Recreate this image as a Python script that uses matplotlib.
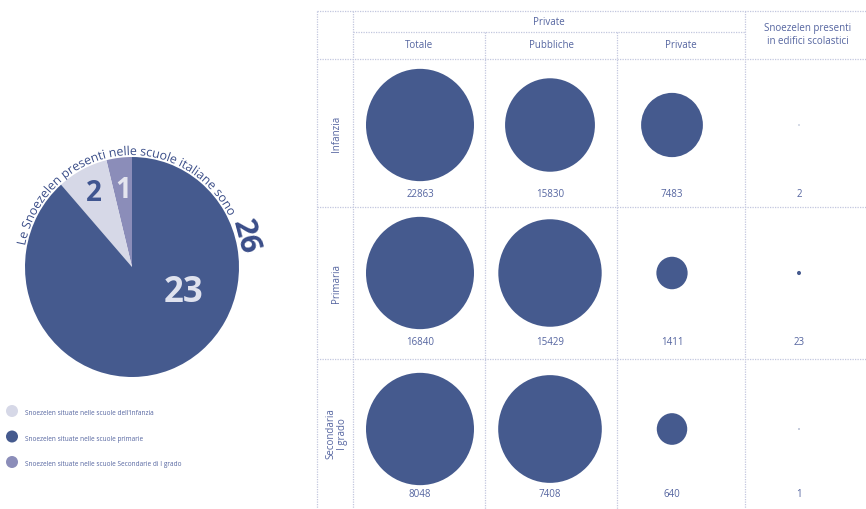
import numpy as np
import matplotlib.pyplot as plt
import matplotlib.patheffects as pe
from matplotlib.patches import Ellipse, Circle
from matplotlib.font_manager import FontProperties, findfont, get_font

plt.rcParams['font.family'] = ['Open Sans', 'DejaVu Sans']

# pie: counted counter-clockwise from the top
pie_names = ['Secondaria di I grado', 'Infanzia', 'Primaria']
pie_values = [1, 2, 23]
pie_colors = ['#8b8db9', '#d6d8e7', '#455a8e']
pie_label_colors = ['#e4e5ef', '#3f5590', '#dfe2ee']
pie_title = 'Le Snoezelen presenti nelle scuole italiane sono'
pie_total = 26

legend_labels = ["Snoezelen situate nelle scuole dell'Infanzia",
                 'Snoezelen situate nelle scuole primarie',
                 'Snoezelen situate nelle scuole Secondarie di I grado']
legend_colors = ['#d6d8e7', '#455a8e', '#8b8db9']

# table
row_labels = ['Infanzia', 'Primaria', 'Secondaria\nI grado']
col_labels = ['Totale', 'Pubbliche', 'Private']
totale = [22863, 16840, 8048]
pubbliche = [15830, 15429, 7408]
private = [7483, 1411, 640]
snoezelen = [2, 23, 1]

W, H = 866, 510
dark = '#455a8e'
txt = '#5565a0'
title_col = '#3a4d88'
grid = '#c2c7df'

fig = plt.figure(figsize=(W / 100, H / 100), dpi=100)
ax = fig.add_axes([0, 0, 1, 1])
ax.set_xlim(0, W)
ax.set_ylim(H, 0)
ax.axis('off')

# ---- pie ----
cx, cy, rx, ry = 132, 268, 107, 110
pax = fig.add_axes([(cx - rx) / W, 1 - (cy + ry) / H, 2 * rx / W, 2 * ry / H])
wedges, _ = pax.pie(pie_values, colors=pie_colors, startangle=90,
                    counterclock=True, wedgeprops=dict(linewidth=0))
pax.set_xlim(-1, 1)
pax.set_ylim(-1, 1)
pax.set_aspect('auto')

label_pos = [(0.71, None), (0.76, None), (0.53, -25)]
label_size = [20, 20, 25]
for w, v, c, (rf, ang), fs in zip(wedges, pie_values, pie_label_colors, label_pos, label_size):
    if ang is None:
        ang = (w.theta1 + w.theta2) / 2
    a = np.radians(ang)
    pax.text(rf * np.cos(a), rf * np.sin(a), str(v), ha='center', va='center',
             fontsize=fs, fontweight='bold', color=c)

# curved title along the top of the pie, one text per character
R_txt_x, R_txt_y = rx + 2, ry + 2
R_mean = (R_txt_x + R_txt_y) / 2
t_start, t_end = 169, 27
arc_len = np.radians(t_start - t_end) * R_mean


def advances(s, size):
    font = get_font(findfont(FontProperties(family='Open Sans')))
    font.set_size(size, 100)
    return np.array([font.load_char(ord(ch)).linearHoriAdvance / 65536 for ch in s])


adv10 = advances(pie_title, 10)
fs_title = 10 * arc_len / adv10.sum()
adv = advances(pie_title, fs_title)
pen = np.concatenate([[0], np.cumsum(adv)[:-1]])
centers = pen + adv / 2 - adv.sum() / 2
t_mid = np.radians((t_start + t_end) / 2)


def arc_point(t):
    x = cx + R_txt_x * np.cos(t)
    y = cy - R_txt_y * np.sin(t)
    rot = np.degrees(np.arctan2(-R_txt_y * np.cos(t), R_txt_x * np.sin(t)))
    return x, y, rot


for ch, s, a in zip(pie_title, centers, adv):
    if ch == ' ':
        continue
    x, y, rot = arc_point(t_mid - s / R_mean)
    r = np.radians(rot)
    # pen origin of the glyph, drawn as a path so it is not snapped to pixels
    x0 = x - np.cos(r) * a / 2
    y0 = y + np.sin(r) * a / 2
    ax.text(x0, y0, ch, ha='left', va='baseline', rotation=rot,
            rotation_mode='anchor', fontsize=fs_title, color=title_col,
            path_effects=[pe.Normal()])

x26, y26, rot26 = arc_point(np.radians(15))
ax.text(x26, y26, str(pie_total), ha='center', va='baseline', rotation=rot26,
        rotation_mode='anchor', fontsize=22, fontweight='bold', color=title_col)

# ---- legend ----
for i, (lab, col) in enumerate(zip(legend_labels, legend_colors)):
    ly = 412 + i * 25.5
    ax.add_patch(Circle((12, ly), 6, color=col, lw=0))
    ax.text(25, ly + 2, lab, fontsize=4.7, color=txt, va='center', ha='left')

# ---- table grid ----
ls = (0, (1, 1))
x_left, x_lab = 317, 353
y_top, y_sub, y_head = 12, 33, 60
row_tops = [60, 208, 360]
for yy in [y_top, y_head, 208, 360]:
    ax.plot([x_left, W], [yy, yy], color=grid, lw=0.9, ls=ls)
ax.plot([x_lab, 745], [y_sub, y_sub], color=grid, lw=0.9, ls=ls)
for xx in [x_left, x_lab, 745]:
    ax.plot([xx, xx], [y_top, H], color=grid, lw=0.9, ls=ls)
for xx in [485, 617]:
    ax.plot([xx, xx], [y_sub, H], color=grid, lw=0.9, ls=ls)

# headers
ax.text((x_lab + 745) / 2, 22.5, 'Private', ha='center', va='center', fontsize=7, color=txt)
head_x = [419, 551, 681]
for hx, lab in zip(head_x, col_labels):
    ax.text(hx, 46, lab, ha='center', va='center', fontsize=7, color=txt)
ax.text(808, 35, 'Snoezelen presenti\nin edifici scolastici', ha='center', va='center',
        fontsize=7, color=txt, linespacing=1.15)

# cells
cell_x = [420, 550, 672, 799]
r_max = 54
for i, lab in enumerate(row_labels):
    top = row_tops[i]
    bottom = row_tops[i + 1] if i + 1 < len(row_tops) else 508
    ax.text(337, (top + bottom) / 2, lab, rotation=90, ha='center', va='center',
            fontsize=7, color=txt, linespacing=1.1)
    vals = [totale[i], pubbliche[i], private[i], snoezelen[i]]
    cyy = top + 66 if i < 2 else top + 70
    for xc, v in zip(cell_x, vals):
        r = r_max * np.sqrt(v / totale[i])
        ax.add_patch(Ellipse((xc, cyy), 2 * r, 2 * r * 1.04, color=dark, lw=0))
        ax.text(xc, top + 135, str(v), ha='center', va='center', fontsize=7, color=txt)

fig.savefig('out.png', dpi=100)
